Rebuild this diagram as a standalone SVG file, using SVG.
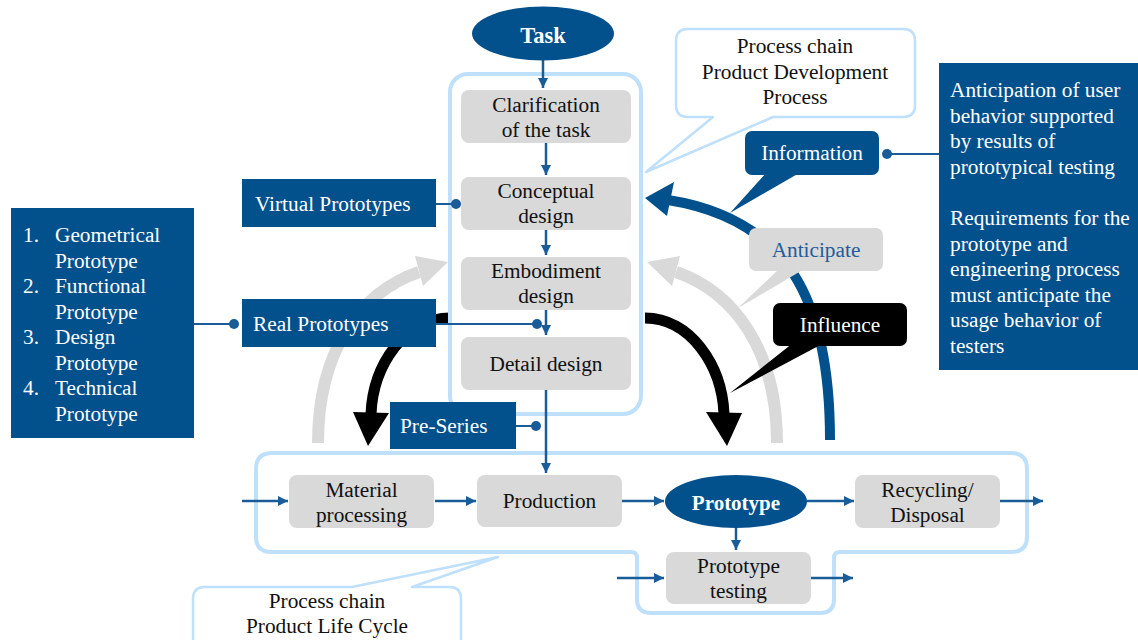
<svg xmlns="http://www.w3.org/2000/svg" width="1138" height="640" viewBox="0 0 1138 640">
  <defs>
    <style>
      text { font-family: "Liberation Serif", "Times New Roman", serif; font-size: 21.3px; }
      .c { text-anchor: middle; }
      .w { fill: #ffffff; }
      .k { fill: #111111; }
      .b { font-weight: bold; font-size: 21px; }
      .step { fill: #d9d9d9; }
      .dark { fill: #02508c; }
      .frame { fill: none; stroke: #bfe0fa; stroke-width: 4; }
      .bubble { fill: #ffffff; stroke: #bfe0fa; stroke-width: 2.5; stroke-linejoin: round; }
      .flow { fill: none; stroke: #1a5c98; stroke-width: 2.5; }
      .link { fill: none; stroke: #1a5c98; stroke-width: 2; }
      .dot { fill: #1a5c98; }
    </style>
    <marker id="head" markerUnits="userSpaceOnUse" markerWidth="11" markerHeight="11" refX="10" refY="5" orient="auto">
      <path d="M0,0 L10,5 L0,10 z" fill="#1a5c98"/>
    </marker>
  </defs>

  <!-- big curved arrows, drawn first so boxes sit on top -->
  <g id="curved-arrows">
    <!-- grey feedback arcs -->
    <path d="M318 443 C318 350 361 292 419 272" fill="none" stroke="#d9d9d9" stroke-width="12"/>
    <polygon points="448,262 415,256 423,286" fill="#d9d9d9"/>
    <path d="M777 443 C777 350 734 292 676 272" fill="none" stroke="#d9d9d9" stroke-width="12"/>
    <polygon points="647,262 680,256 672,286" fill="#d9d9d9"/>
    <!-- blue information arc -->
    <path d="M830 440 C830 300 788 219 668 200" fill="none" stroke="#02508c" stroke-width="10"/>
    <polygon points="645,198 674,182 667,216" fill="#02508c"/>
    <!-- black influence arcs -->
    <path d="M450 318 C405 318 373 365 371 414" fill="none" stroke="#000" stroke-width="11"/>
    <polygon points="368,446 353,412 389,413" fill="#000"/>
    <path d="M645 318 C690 318 722 365 724 414" fill="none" stroke="#000" stroke-width="11"/>
    <polygon points="727,446 742,413 706,412" fill="#000"/>
  </g>

  <!-- process chain frames -->
  <g id="pdp-frame">
    <rect class="frame" x="450" y="74" width="191" height="340" rx="18"/>
  </g>
  <g id="plc-frame">
    <path class="frame" d="M272 453 H1011 Q1027 453 1027 469 V537 Q1027 552 1011 552 H840 Q834 552 834 558 V599 Q834 613 820 613 H651 Q637 613 637 599 V558 Q637 552 631 552 H272 Q256 552 256 537 V469 Q256 453 272 453 Z"/>
  </g>

  <!-- connectors -->
  <g id="connectors">
    <line class="flow" x1="543" y1="60" x2="543" y2="88" marker-end="url(#head)"/>
    <line class="flow" x1="546" y1="143" x2="546" y2="175" marker-end="url(#head)"/>
    <line class="flow" x1="546" y1="230" x2="546" y2="255" marker-end="url(#head)"/>
    <line class="flow" x1="546" y1="310" x2="546" y2="335" marker-end="url(#head)"/>
    <line class="flow" x1="546" y1="390" x2="546" y2="473" marker-end="url(#head)"/>
    <line class="flow" x1="242" y1="501" x2="288" y2="501" marker-end="url(#head)"/>
    <line class="flow" x1="435" y1="501" x2="476" y2="501" marker-end="url(#head)"/>
    <line class="flow" x1="622" y1="501" x2="664" y2="501" marker-end="url(#head)"/>
    <line class="flow" x1="807" y1="501" x2="854" y2="501" marker-end="url(#head)"/>
    <line class="flow" x1="1000" y1="501" x2="1043" y2="501" marker-end="url(#head)"/>
    <line class="flow" x1="736" y1="528" x2="736" y2="550" marker-end="url(#head)"/>
    <line class="flow" x1="617" y1="578" x2="664" y2="578" marker-end="url(#head)"/>
    <line class="flow" x1="808" y1="578" x2="853" y2="578" marker-end="url(#head)"/>
    <!-- pin lines ending in dots -->
    <line class="link" x1="436" y1="204" x2="456" y2="204"/>
    <circle class="dot" cx="456" cy="204" r="5"/>
    <line class="link" x1="194" y1="324" x2="234" y2="324"/>
    <circle class="dot" cx="234" cy="324" r="5"/>
    <line class="link" x1="436" y1="324" x2="537" y2="324"/>
    <circle class="dot" cx="537" cy="324" r="5"/>
    <line class="link" x1="516" y1="426" x2="536" y2="426"/>
    <circle class="dot" cx="536" cy="426" r="5"/>
    <line class="link" x1="887" y1="154" x2="939" y2="154"/>
    <circle class="dot" cx="887" cy="154" r="5"/>
  </g>

  <!-- product development steps -->
  <g id="task">
    <ellipse class="dark" cx="543" cy="33.5" rx="71" ry="27"/>
    <text class="c w" x="543" y="43" style="font-weight:bold;font-size:22.5px">Task</text>
  </g>
  <g id="clarification">
    <rect class="step" x="461" y="90" width="170" height="53" rx="8"/>
    <text class="c k" x="546" y="112">Clarification</text>
    <text class="c k" x="546" y="137">of the task</text>
  </g>
  <g id="conceptual">
    <rect class="step" x="461" y="177" width="170" height="53" rx="8"/>
    <text class="c k" x="546" y="198">Conceptual</text>
    <text class="c k" x="546" y="223">design</text>
  </g>
  <g id="embodiment">
    <rect class="step" x="461" y="257" width="170" height="53" rx="8"/>
    <text class="c k" x="546" y="278">Embodiment</text>
    <text class="c k" x="546" y="303">design</text>
  </g>
  <g id="detail">
    <rect class="step" x="461" y="337" width="170" height="53" rx="8"/>
    <text class="c k" x="546" y="371">Detail design</text>
  </g>

  <!-- product life cycle steps -->
  <g id="material">
    <rect class="step" x="289" y="475" width="145" height="53" rx="8"/>
    <text class="c k" x="361.5" y="497">Material</text>
    <text class="c k" x="361.5" y="522">processing</text>
  </g>
  <g id="production">
    <rect class="step" x="477" y="475" width="145" height="52" rx="8"/>
    <text class="c k" x="549.5" y="508">Production</text>
  </g>
  <g id="prototype">
    <ellipse class="dark" cx="736" cy="501.5" rx="71" ry="26.5"/>
    <text class="c w b" x="736" y="510">Prototype</text>
  </g>
  <g id="recycling">
    <rect class="step" x="855" y="475" width="145" height="53" rx="8"/>
    <text class="c k" x="927.5" y="497">Recycling/</text>
    <text class="c k" x="927.5" y="522">Disposal</text>
  </g>
  <g id="testing">
    <rect class="step" x="666" y="552" width="145" height="52" rx="8"/>
    <text class="c k" x="738.5" y="573">Prototype</text>
    <text class="c k" x="738.5" y="598">testing</text>
  </g>

  <!-- prototype kinds -->
  <g id="virtual">
    <rect class="dark" x="242" y="179" width="194" height="48"/>
    <text class="w" x="255" y="211">Virtual Prototypes</text>
  </g>
  <g id="real">
    <rect class="dark" x="242" y="299" width="194" height="48"/>
    <text class="w" x="253" y="331">Real Prototypes</text>
  </g>
  <g id="preseries">
    <rect class="dark" x="390" y="402" width="126" height="47"/>
    <text class="w" x="400" y="433">Pre-Series</text>
  </g>
  <g id="kinds-list">
    <rect class="dark" x="11" y="208" width="183" height="230"/>
    <text class="w">
      <tspan x="23" y="242">1.</tspan><tspan x="55" y="242">Geometrical</tspan>
      <tspan x="55" y="267.5">Prototype</tspan>
      <tspan x="23" y="293">2.</tspan><tspan x="55" y="293">Functional</tspan>
      <tspan x="55" y="318.5">Prototype</tspan>
      <tspan x="23" y="344">3.</tspan><tspan x="55" y="344">Design</tspan>
      <tspan x="55" y="369.5">Prototype</tspan>
      <tspan x="23" y="395">4.</tspan><tspan x="55" y="395">Technical</tspan>
      <tspan x="55" y="420.5">Prototype</tspan>
    </text>
  </g>

  <!-- explanation panel -->
  <g id="anticipation-note">
    <rect class="dark" x="939" y="63" width="199" height="307"/>
    <text class="w">
      <tspan x="950" y="97">Anticipation of user</tspan>
      <tspan x="950" y="122.5">behavior supported</tspan>
      <tspan x="950" y="148">by results of</tspan>
      <tspan x="950" y="173.5">prototypical testing</tspan>
      <tspan x="950" y="225">Requirements for the</tspan>
      <tspan x="950" y="250.5">prototype and</tspan>
      <tspan x="950" y="276">engineering process</tspan>
      <tspan x="950" y="301.5">must anticipate the</tspan>
      <tspan x="950" y="327">usage behavior of</tspan>
      <tspan x="950" y="352.5">testers</tspan>
    </text>
  </g>

  <!-- callouts -->
  <g id="information">
    <polygon class="dark" points="767,172 801,172 730,213"/>
    <rect class="dark" x="745" y="131" width="134" height="44" rx="7"/>
    <text class="c w" x="812" y="160">Information</text>
  </g>
  <g id="anticipate">
    <polygon points="780,268 806,268 738,308" fill="#d9d9d9"/>
    <rect class="step" x="749" y="228" width="134" height="43" rx="7"/>
    <text class="c" x="816" y="257" fill="#1f5c99">Anticipate</text>
  </g>
  <g id="influence">
    <polygon points="793,343 824,343 730,393" fill="#000"/>
    <rect x="773" y="303" width="134" height="43" rx="7" fill="#000"/>
    <text class="c w" x="840" y="332">Influence</text>
  </g>
  <g id="pdp-label">
    <path class="bubble" d="M688 29 H903 Q915 29 915 41 V105 Q915 117 903 117 H773 L646 172 L713 117 H688 Q676 117 676 105 V41 Q676 29 688 29 Z"/>
    <text class="c k" x="795" y="53">Process chain</text>
    <text class="c k" x="795" y="79">Product Development</text>
    <text class="c k" x="795" y="104">Process</text>
  </g>
  <g id="plc-label">
    <path class="bubble" d="M205 587 H352 L498 557 L412 587 H449 Q461 587 461 599 V650 H193 V599 Q193 587 205 587 Z"/>
    <text class="c k" x="327" y="608">Process chain</text>
    <text class="c k" x="327" y="633">Product Life Cycle</text>
  </g>
</svg>
